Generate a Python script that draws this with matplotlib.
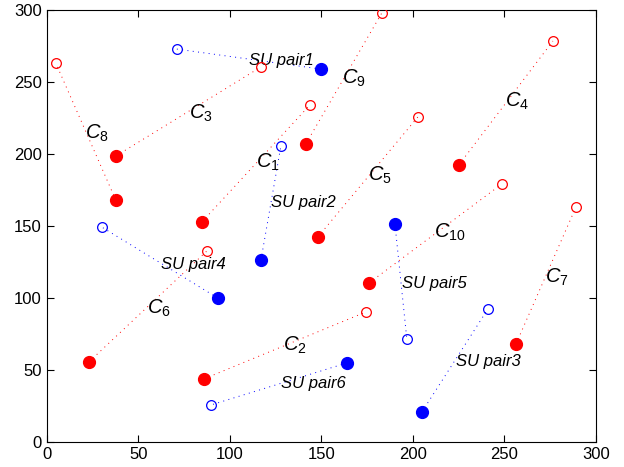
import matplotlib
matplotlib.use("Agg")
import matplotlib.pyplot as plt

plt.rcParams['font.family'] = ['Liberation Sans', 'DejaVu Sans']
plt.rcParams['mathtext.fontset'] = 'custom'
plt.rcParams['mathtext.it'] = 'Liberation Sans:italic'
plt.rcParams['mathtext.rm'] = 'Liberation Sans'

# primary links C1..C10: filled = transmitter, open = receiver
pu_tx_x = [84.7, 85.8, 37.7, 225.1, 148.1, 23.0, 256.3, 37.7, 141.5, 176.0]
pu_tx_y = [152.8, 43.8, 198.6, 192.4, 142.4, 55.6, 68.0, 168.0, 207.0, 110.4]
pu_rx_x = [143.7, 174.3, 116.9, 276.5, 202.7, 87.4, 289.1, 4.9, 183.0, 248.6]
pu_rx_y = [234.0, 90.3, 260.4, 278.5, 225.7, 132.6, 163.2, 263.2, 297.9, 179.2]
pu_names = ['1', '2', '3', '4', '5', '6', '7', '8', '9', '10']

# secondary user pairs 1..6
su_tx_x = [149.7, 117.0, 204.9, 93.4, 190.2, 163.9]
su_tx_y = [259.0, 126.4, 20.8, 100.0, 151.4, 54.9]
su_rx_x = [71.0, 127.9, 241.0, 30.0, 196.7, 89.6]
su_rx_y = [272.9, 205.6, 92.4, 149.3, 71.5, 25.7]
su_names = ['1', '2', '3', '4', '5', '6']

# label anchors
pu_lab_x = [121.0, 135.5, 84.2, 256.8, 182.0, 61.2, 278.7, 27.3, 167.8, 220.2]
pu_lab_y = [194.4, 67.4, 228.5, 236.8, 185.4, 93.0, 114.6, 214.6, 252.8, 145.8]
su_lab_x = [128.4, 140.4, 241.0, 80.3, 212.0, 145.4]
su_lab_y = [265.3, 166.0, 55.6, 123.6, 110.4, 40.3]

fig = plt.figure(figsize=(6.24, 4.67), dpi=100)
ax = fig.add_axes([0.075, 0.0535, 0.88, 0.925])

for i in range(len(pu_names)):
    ax.plot([pu_tx_x[i], pu_rx_x[i]], [pu_tx_y[i], pu_rx_y[i]], color='red',
            linewidth=0.7, dashes=(1, 4.5), zorder=1)
    ax.text(pu_lab_x[i], pu_lab_y[i],
            r'$C_{\mathit{' + pu_names[i] + r'}}$',
            fontsize=14.5, ha='center', va='center')
for i in range(len(su_names)):
    ax.plot([su_tx_x[i], su_rx_x[i]], [su_tx_y[i], su_rx_y[i]], color='blue',
            linewidth=0.7, dashes=(1, 4.5), zorder=1)
    ax.text(su_lab_x[i], su_lab_y[i], 'SU pair' + su_names[i], fontsize=12,
            style='italic', ha='center', va='center')

ax.plot(pu_tx_x, pu_tx_y, 'o', color='red', markersize=8.5, linestyle='none', zorder=3)
ax.plot(pu_rx_x, pu_rx_y, 'o', markerfacecolor='none', markeredgecolor='red',
        markersize=7, markeredgewidth=0.9, linestyle='none', zorder=3)
ax.plot(su_tx_x, su_tx_y, 'o', color='blue', markersize=8.5, linestyle='none', zorder=3)
ax.plot(su_rx_x, su_rx_y, 'o', markerfacecolor='none', markeredgecolor='blue',
        markersize=7, markeredgewidth=0.9, linestyle='none', zorder=3)

ax.set_xlim(0, 300)
ax.set_ylim(0, 300)
ax.set_xticks([0, 50, 100, 150, 200, 250, 300])
ax.set_yticks([0, 50, 100, 150, 200, 250, 300])
ax.tick_params(direction='in', top=True, right=True, length=5, labelsize=12)

fig.savefig('out.png', dpi=100)
